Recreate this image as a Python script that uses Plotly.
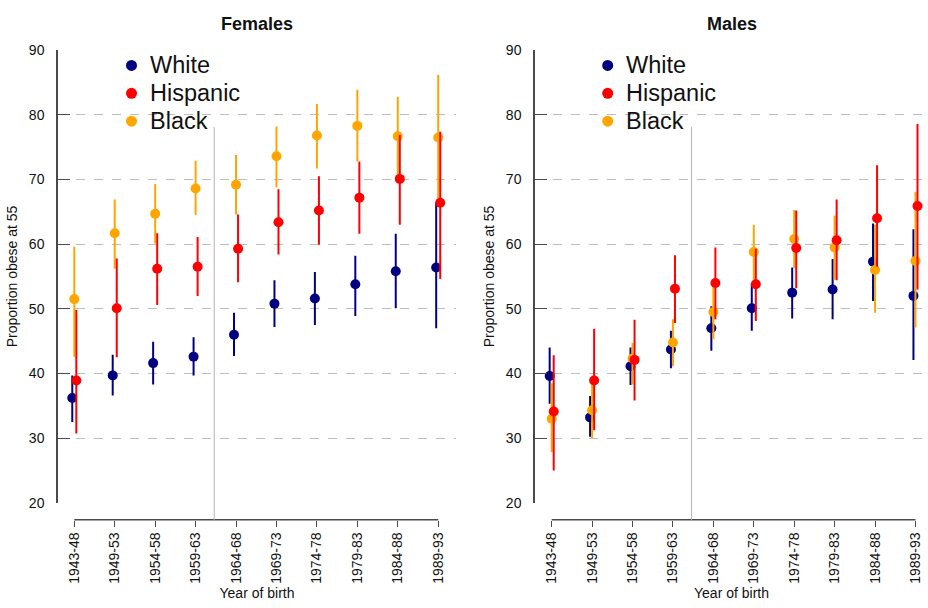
import plotly.graph_objects as go

W, H = 928, 608

COHORTS = ["1943-48", "1949-53", "1954-58", "1959-63", "1964-68",
           "1969-73", "1974-78", "1979-83", "1984-88", "1989-93"]

# Females: point estimate, lower and upper bound (percent obese at 55)
F_WHITE = [36.2, 39.7, 41.6, 42.6, 46.0, 50.8, 51.6, 53.8, 55.8, 56.4]
F_WHITE_LO = [32.5, 36.6, 38.3, 39.7, 42.7, 47.2, 47.5, 48.9, 50.1, 47.0]
F_WHITE_HI = [39.7, 42.9, 44.9, 45.6, 49.4, 54.4, 55.7, 58.2, 61.6, 66.5]

F_HISP = [38.9, 50.1, 56.2, 56.5, 59.3, 63.4, 65.2, 67.2, 70.1, 66.4]
F_HISP_LO = [30.7, 42.5, 50.6, 52.0, 54.1, 58.4, 59.9, 61.6, 63.0, 54.6]
F_HISP_HI = [49.8, 57.8, 61.7, 61.1, 64.6, 68.5, 70.5, 72.8, 76.9, 77.4]

F_BLACK = [51.5, 61.7, 64.7, 68.6, 69.2, 73.6, 76.8, 78.3, 76.7, 76.5]
F_BLACK_LO = [42.6, 56.2, 60.1, 64.5, 64.6, 68.8, 71.7, 72.8, 70.5, 66.8]
F_BLACK_HI = [59.6, 66.9, 69.3, 72.9, 73.8, 78.2, 81.7, 83.9, 82.8, 86.2]

# Males
M_WHITE = [39.6, 33.2, 41.1, 43.7, 47.0, 50.1, 52.5, 53.0, 57.3, 52.0]
M_WHITE_LO = [35.3, 30.2, 38.2, 40.8, 43.5, 46.6, 48.5, 48.4, 51.2, 42.1]
M_WHITE_HI = [44.0, 36.5, 44.0, 46.6, 50.4, 53.9, 56.4, 57.7, 63.2, 62.3]

M_HISP = [34.1, 38.9, 42.1, 53.1, 54.0, 53.8, 59.4, 60.6, 64.0, 65.9]
M_HISP_LO = [25.0, 31.2, 35.8, 47.8, 48.4, 48.1, 53.2, 54.4, 56.5, 53.0]
M_HISP_HI = [42.8, 46.9, 48.3, 58.3, 59.5, 59.3, 65.2, 66.9, 72.2, 78.6]

M_BLACK = [33.0, 34.3, 42.3, 44.8, 49.5, 58.8, 60.8, 59.5, 56.0, 57.4]
M_BLACK_LO = [27.8, 30.0, 38.3, 41.1, 45.3, 54.5, 56.3, 54.5, 49.4, 47.1]
M_BLACK_HI = [38.5, 38.6, 44.7, 48.4, 53.9, 63.0, 65.3, 64.4, 63.0, 68.1]

Y_TICKS = [20, 30, 40, 50, 60, 70, 80, 90]
LEGEND_NAMES = ["White", "Hispanic", "Black"]

NAVY = "#000080"
RED = "#FF0000"
ORANGE = "#FFA500"
GRID = "#BDBDBD"
AXIS = "#4A4A4A"
TXT = "#111111"
FONT = "Liberation Sans, Arial, sans-serif"
COLORS = {"White": NAVY, "Hispanic": RED, "Black": ORANGE}


# px -> paper fractions
def px(x):
    return x / W


def py(y):
    return 1 - y / H


LEFT_DOM = [px(58), px(456)]
RIGHT_DOM = [px(535), 1.0]
# y axis spans exactly 20..90 (R style axis line), x axis sits a bit below it
YDOM = [py(508.1), py(43.4)]
YRANGE = [Y_TICKS[0], Y_TICKS[-1]]
XAXIS_POS = py(525.7)
BREAK_X = 3.46  # vertical reference line between cohorts
BREAK_TOP = 78.1


def y_paper(v):
    # value on the y axis -> paper fraction
    return YDOM[0] + (v - YRANGE[0]) / (YRANGE[1] - YRANGE[0]) * (YDOM[1] - YDOM[0])


fig = go.Figure()


def add_group(est, lo, hi, name, offset, xa, ya):
    xs = [i + offset for i in range(len(COHORTS))]
    color = COLORS[name]
    fig.add_trace(go.Scatter(
        x=xs, y=est,
        mode="markers",
        name=name,
        showlegend=False,
        cliponaxis=False,
        marker=dict(color=color, size=10),
        error_y=dict(
            type="data", symmetric=False,
            array=[h - e for h, e in zip(hi, est)],
            arrayminus=[e - l for e, l in zip(est, lo)],
            color=color, thickness=2, width=0,
        ),
        xaxis=xa, yaxis=ya,
        hovertemplate=name + " %{y:.1f}<extra></extra>",
    ))


# draw order: White, Black, Hispanic (Hispanic on top)
add_group(F_WHITE, F_WHITE_LO, F_WHITE_HI, "White", -0.05, "x", "y")
add_group(F_BLACK, F_BLACK_LO, F_BLACK_HI, "Black", 0.0, "x", "y")
add_group(F_HISP, F_HISP_LO, F_HISP_HI, "Hispanic", 0.05, "x", "y")

add_group(M_WHITE, M_WHITE_LO, M_WHITE_HI, "White", -0.05, "x2", "y2")
add_group(M_BLACK, M_BLACK_LO, M_BLACK_HI, "Black", 0.0, "x2", "y2")
add_group(M_HISP, M_HISP_LO, M_HISP_HI, "Hispanic", 0.05, "x2", "y2")

xaxis_style = dict(
    tickmode="array",
    tickvals=list(range(len(COHORTS))),
    ticktext=COHORTS,
    tickangle=-90,
    ticks="outside", ticklen=6, tickcolor=AXIS, tickwidth=1,
    tickfont=dict(size=14, color=TXT),
    showgrid=False, zeroline=False, showline=False,
    anchor="free", position=XAXIS_POS,
    title=dict(text="Year of birth", font=dict(size=14, color=TXT), standoff=5),
)
yaxis_style = dict(
    range=YRANGE,
    domain=YDOM,
    tickmode="array",
    tickvals=Y_TICKS,
    ticks="inside", ticklen=12, tickcolor=AXIS, tickwidth=1,
    ticklabelstandoff=9,
    tickfont=dict(size=14, color=TXT),
    showgrid=True, gridcolor=GRID, griddash="dash", gridwidth=1,
    zeroline=False,
    showline=True, linecolor=AXIS, linewidth=1.5, mirror=False,
    title=dict(text="Proportion obese at 55", font=dict(size=14, color=TXT), standoff=8),
)

fig.update_layout(
    xaxis=dict(xaxis_style, domain=LEFT_DOM, range=[-0.403, 9.44]),
    yaxis=dict(yaxis_style, anchor="x"),
    xaxis2=dict(xaxis_style, domain=RIGHT_DOM, range=[-0.413, 9.31]),
    yaxis2=dict(yaxis_style, anchor="x2"),
)

# bottom axis line (only spanning the ticks) and the cohort break line
for xa in ["x", "x2"]:
    fig.add_shape(type="line", xref=xa, yref="paper", x0=0, x1=len(COHORTS) - 1,
                  y0=XAXIS_POS, y1=XAXIS_POS, line=dict(color=AXIS, width=1.5))
    fig.add_shape(type="line", xref=xa, yref="paper", x0=BREAK_X, x1=BREAK_X,
                  y0=XAXIS_POS, y1=y_paper(BREAK_TOP),
                  line=dict(color="#B4B4B4", width=1))

for label, xa in [("Females", "x"), ("Males", "x2")]:
    fig.add_annotation(text="<b>" + label + "</b>", xref=xa + " domain", yref="paper",
                       x=0.5, y=py(16), yanchor="middle", showarrow=False,
                       font=dict(size=18, color=TXT))

# in-plot legends (one per panel)
for dot_x in [131.5, 607.7]:
    for k, name in enumerate(LEGEND_NAMES):
        yc = 59 + 28.6 * k
        fig.add_shape(type="circle", xref="paper", yref="paper",
                      xsizemode="pixel", ysizemode="pixel",
                      xanchor=px(dot_x), yanchor=py(yc),
                      x0=-5.5, x1=5.5, y0=-5.5, y1=5.5,
                      fillcolor=COLORS[name], line=dict(width=0))
        fig.add_annotation(text=name, xref="paper", yref="paper",
                           x=px(dot_x + 16), y=py(yc), xanchor="left", yanchor="middle",
                           showarrow=False, font=dict(size=23.5, color=TXT))

fig.update_layout(
    width=W, height=H,
    margin=dict(l=0, r=0, t=0, b=0),
    paper_bgcolor="white",
    plot_bgcolor="white",
    font=dict(family=FONT, color=TXT),
    showlegend=False,
)

fig.write_html("out.html", config={"displayModeBar": False},
               post_script="document.body.style.margin='0px';")
